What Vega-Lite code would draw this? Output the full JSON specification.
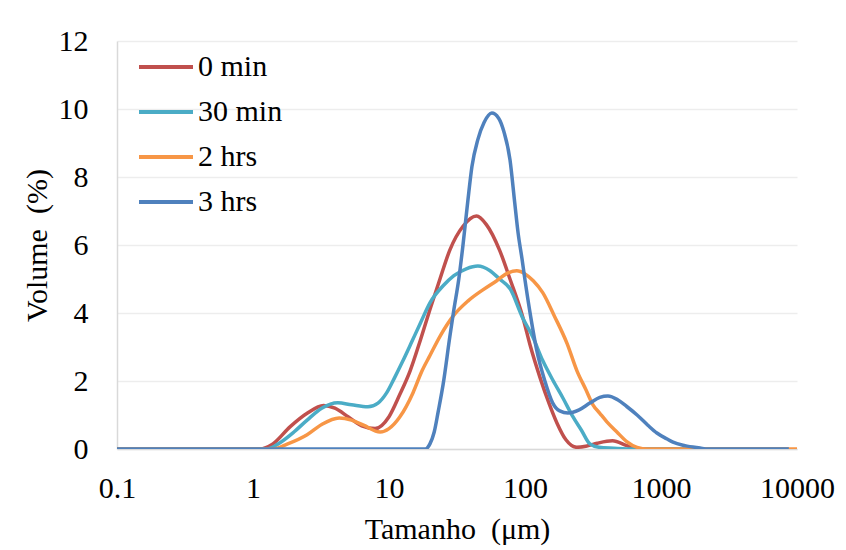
{
  "$schema": "https://vega.github.io/schema/vega-lite/v6.json",
  "width": 680,
  "height": 408,
  "autosize": {"type": "none"},
  "padding": {"left": 117, "top": 41, "right": 49, "bottom": 101},
  "background": "white",
  "config": {
    "font": "Liberation Serif, DejaVu Serif, serif",
    "view": {"stroke": null},
    "axis": {
      "labelFont": "Liberation Serif, DejaVu Serif, serif",
      "titleFont": "Liberation Serif, DejaVu Serif, serif",
      "labelFontSize": 30,
      "titleFontSize": 30,
      "labelColor": "black",
      "titleColor": "black",
      "titleFontWeight": "normal",
      "tickSize": 0,
      "domainColor": "#D9D9D9",
      "domainWidth": 1.5,
      "labelFlush": false,
      "labelOverlap": false
    },
    "legend": {
      "labelFont": "Liberation Serif, DejaVu Serif, serif",
      "labelFontSize": 30,
      "labelColor": "black",
      "padding": 0
    }
  },
  "data": {
    "values": [
      {"s": "0 min", "x": 0.1, "y": 0}, {"s": "0 min", "x": 1, "y": 0}, {"s": "0 min", "x": 1.12, "y": 0},
      {"s": "0 min", "x": 1.4, "y": 0.15}, {"s": "0 min", "x": 1.87, "y": 0.65}, {"s": "0 min", "x": 2.5, "y": 1.05},
      {"s": "0 min", "x": 3.3, "y": 1.28}, {"s": "0 min", "x": 4, "y": 1.2}, {"s": "0 min", "x": 5, "y": 0.95},
      {"s": "0 min", "x": 6.3, "y": 0.68}, {"s": "0 min", "x": 7.9, "y": 0.6}, {"s": "0 min", "x": 10, "y": 0.95},
      {"s": "0 min", "x": 12, "y": 1.6}, {"s": "0 min", "x": 14.3, "y": 2.3}, {"s": "0 min", "x": 17, "y": 3.2},
      {"s": "0 min", "x": 20, "y": 4.1}, {"s": "0 min", "x": 23.7, "y": 5.0}, {"s": "0 min", "x": 28, "y": 5.85},
      {"s": "0 min", "x": 35, "y": 6.55}, {"s": "0 min", "x": 44, "y": 6.85}, {"s": "0 min", "x": 52, "y": 6.6},
      {"s": "0 min", "x": 65, "y": 5.85}, {"s": "0 min", "x": 78, "y": 4.97}, {"s": "0 min", "x": 96, "y": 3.9},
      {"s": "0 min", "x": 110, "y": 3.0}, {"s": "0 min", "x": 129, "y": 2.1}, {"s": "0 min", "x": 150, "y": 1.35},
      {"s": "0 min", "x": 172, "y": 0.76}, {"s": "0 min", "x": 200, "y": 0.27}, {"s": "0 min", "x": 240, "y": 0.05},
      {"s": "0 min", "x": 280, "y": 0.08}, {"s": "0 min", "x": 340, "y": 0.17}, {"s": "0 min", "x": 440, "y": 0.24},
      {"s": "0 min", "x": 560, "y": 0.1}, {"s": "0 min", "x": 670, "y": 0}, {"s": "0 min", "x": 8700, "y": 0},

      {"s": "30 min", "x": 0.1, "y": 0}, {"s": "30 min", "x": 1.27, "y": 0}, {"s": "30 min", "x": 1.6, "y": 0.2},
      {"s": "30 min", "x": 2, "y": 0.5}, {"s": "30 min", "x": 2.5, "y": 0.85}, {"s": "30 min", "x": 3.2, "y": 1.2},
      {"s": "30 min", "x": 4.2, "y": 1.36}, {"s": "30 min", "x": 5.3, "y": 1.3}, {"s": "30 min", "x": 7, "y": 1.24},
      {"s": "30 min", "x": 8.3, "y": 1.35}, {"s": "30 min", "x": 9.6, "y": 1.65}, {"s": "30 min", "x": 11, "y": 2.1},
      {"s": "30 min", "x": 12.5, "y": 2.55}, {"s": "30 min", "x": 14.5, "y": 3.1}, {"s": "30 min", "x": 17, "y": 3.7},
      {"s": "30 min", "x": 20, "y": 4.3}, {"s": "30 min", "x": 25, "y": 4.8}, {"s": "30 min", "x": 30, "y": 5.1},
      {"s": "30 min", "x": 37, "y": 5.3}, {"s": "30 min", "x": 45, "y": 5.38}, {"s": "30 min", "x": 55, "y": 5.25},
      {"s": "30 min", "x": 65, "y": 5.0}, {"s": "30 min", "x": 78, "y": 4.7}, {"s": "30 min", "x": 95, "y": 3.9},
      {"s": "30 min", "x": 114, "y": 3.3}, {"s": "30 min", "x": 135, "y": 2.6}, {"s": "30 min", "x": 160, "y": 2.03},
      {"s": "30 min", "x": 190, "y": 1.5}, {"s": "30 min", "x": 225, "y": 0.95}, {"s": "30 min", "x": 260, "y": 0.55},
      {"s": "30 min", "x": 300, "y": 0.15}, {"s": "30 min", "x": 350, "y": 0.05}, {"s": "30 min", "x": 450, "y": 0.02},
      {"s": "30 min", "x": 560, "y": 0}, {"s": "30 min", "x": 8700, "y": 0},

      {"s": "2 hrs", "x": 0.1, "y": 0}, {"s": "2 hrs", "x": 1.4, "y": 0}, {"s": "2 hrs", "x": 1.8, "y": 0.15},
      {"s": "2 hrs", "x": 2.5, "y": 0.42}, {"s": "2 hrs", "x": 3.2, "y": 0.72}, {"s": "2 hrs", "x": 4.3, "y": 0.91},
      {"s": "2 hrs", "x": 5.3, "y": 0.85}, {"s": "2 hrs", "x": 6.5, "y": 0.7}, {"s": "2 hrs", "x": 8.6, "y": 0.5},
      {"s": "2 hrs", "x": 10, "y": 0.6}, {"s": "2 hrs", "x": 12, "y": 0.94}, {"s": "2 hrs", "x": 15, "y": 1.65},
      {"s": "2 hrs", "x": 17.5, "y": 2.3}, {"s": "2 hrs", "x": 20, "y": 2.75}, {"s": "2 hrs", "x": 24, "y": 3.35},
      {"s": "2 hrs", "x": 29.5, "y": 3.9}, {"s": "2 hrs", "x": 38, "y": 4.35}, {"s": "2 hrs", "x": 49, "y": 4.68},
      {"s": "2 hrs", "x": 62, "y": 4.95}, {"s": "2 hrs", "x": 75, "y": 5.18}, {"s": "2 hrs", "x": 87, "y": 5.24},
      {"s": "2 hrs", "x": 100, "y": 5.15}, {"s": "2 hrs", "x": 115, "y": 4.95}, {"s": "2 hrs", "x": 135, "y": 4.6},
      {"s": "2 hrs", "x": 165, "y": 3.9}, {"s": "2 hrs", "x": 204, "y": 3.1}, {"s": "2 hrs", "x": 241, "y": 2.3},
      {"s": "2 hrs", "x": 280, "y": 1.75}, {"s": "2 hrs", "x": 316, "y": 1.3}, {"s": "2 hrs", "x": 355, "y": 1.05},
      {"s": "2 hrs", "x": 400, "y": 0.8}, {"s": "2 hrs", "x": 474, "y": 0.5}, {"s": "2 hrs", "x": 560, "y": 0.22},
      {"s": "2 hrs", "x": 667, "y": 0.05}, {"s": "2 hrs", "x": 800, "y": 0}, {"s": "2 hrs", "x": 10000, "y": 0},

      {"s": "3 hrs", "x": 0.1, "y": 0}, {"s": "3 hrs", "x": 18.5, "y": 0}, {"s": "3 hrs", "x": 20, "y": 0.15},
      {"s": "3 hrs", "x": 21.5, "y": 0.5}, {"s": "3 hrs", "x": 23, "y": 1.1}, {"s": "3 hrs", "x": 25, "y": 1.9},
      {"s": "3 hrs", "x": 28, "y": 3.3}, {"s": "3 hrs", "x": 30, "y": 4.1}, {"s": "3 hrs", "x": 32.6, "y": 5.0},
      {"s": "3 hrs", "x": 35, "y": 6.0}, {"s": "3 hrs", "x": 38, "y": 7.3}, {"s": "3 hrs", "x": 40.7, "y": 8.3},
      {"s": "3 hrs", "x": 45, "y": 9.1}, {"s": "3 hrs", "x": 50, "y": 9.6}, {"s": "3 hrs", "x": 57, "y": 9.88},
      {"s": "3 hrs", "x": 64, "y": 9.73}, {"s": "3 hrs", "x": 70, "y": 9.33}, {"s": "3 hrs", "x": 77.6, "y": 8.5},
      {"s": "3 hrs", "x": 84, "y": 7.25}, {"s": "3 hrs", "x": 89, "y": 6.35}, {"s": "3 hrs", "x": 95, "y": 5.6},
      {"s": "3 hrs", "x": 100, "y": 4.97}, {"s": "3 hrs", "x": 110, "y": 3.9}, {"s": "3 hrs", "x": 122, "y": 2.9},
      {"s": "3 hrs", "x": 140, "y": 2.0}, {"s": "3 hrs", "x": 160, "y": 1.35}, {"s": "3 hrs", "x": 180, "y": 1.12},
      {"s": "3 hrs", "x": 207, "y": 1.06}, {"s": "3 hrs", "x": 250, "y": 1.15}, {"s": "3 hrs", "x": 300, "y": 1.35},
      {"s": "3 hrs", "x": 355, "y": 1.52}, {"s": "3 hrs", "x": 407, "y": 1.56}, {"s": "3 hrs", "x": 480, "y": 1.45},
      {"s": "3 hrs", "x": 560, "y": 1.25}, {"s": "3 hrs", "x": 667, "y": 1.0}, {"s": "3 hrs", "x": 800, "y": 0.7},
      {"s": "3 hrs", "x": 933, "y": 0.47}, {"s": "3 hrs", "x": 1100, "y": 0.3}, {"s": "3 hrs", "x": 1225, "y": 0.2},
      {"s": "3 hrs", "x": 1500, "y": 0.1}, {"s": "3 hrs", "x": 1935, "y": 0.03}, {"s": "3 hrs", "x": 2200, "y": 0},
      {"s": "3 hrs", "x": 8700, "y": 0}
    ]
  },
  "mark": {"type": "line", "interpolate": "monotone", "strokeWidth": 3.5, "clip": true},
  "encoding": {
    "x": {
      "field": "x",
      "type": "quantitative",
      "scale": {"type": "log", "domain": [0.1, 10000]},
      "axis": {
        "values": [0.1, 1, 10, 100, 1000, 10000],
        "format": "~g",
        "title": "Tamanho\u00a0 (μm)",
        "grid": false,
        "labelPadding": 24,
        "titlePadding": 11
      }
    },
    "y": {
      "field": "y",
      "type": "quantitative",
      "scale": {"domain": [0, 12]},
      "axis": {
        "values": [0, 2, 4, 6, 8, 10, 12],
        "title": "Volume\u00a0 (%)",
        "grid": true,
        "gridColor": "#EDEDED",
        "gridWidth": 1.5,
        "labelPadding": 29,
        "titlePadding": 6
      }
    },
    "color": {
      "field": "s",
      "type": "nominal",
      "scale": {
        "domain": ["0 min", "30 min", "2 hrs", "3 hrs"],
        "range": ["#C0504D", "#4BACC6", "#F79646", "#4F81BD"]
      },
      "legend": {
        "title": null,
        "orient": "none",
        "legendX": 20,
        "legendY": 11,
        "symbolType": "stroke",
        "symbolSize": 2916,
        "symbolStrokeWidth": 4,
        "clipHeight": 30,
        "rowPadding": 15,
        "labelOffset": 3
      }
    }
  }
}
